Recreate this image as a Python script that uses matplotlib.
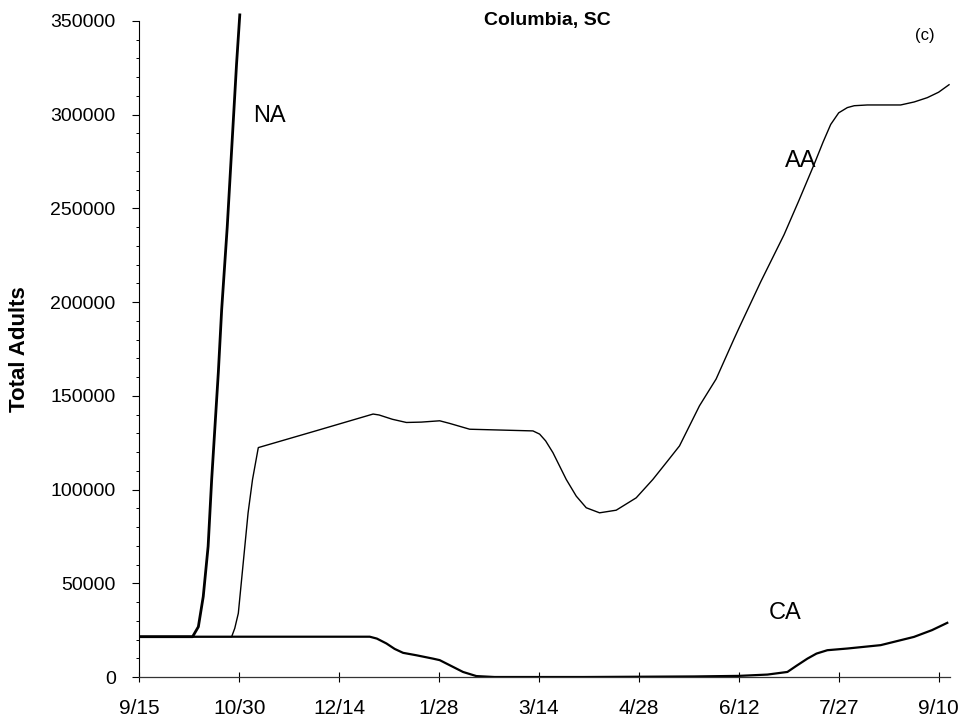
import matplotlib
matplotlib.use("Agg")
import matplotlib.pyplot as plt
from matplotlib.ticker import MultipleLocator

plt.rcParams['font.family'] = ['Liberation Sans', 'DejaVu Sans']

# x = days after 9/15
tick_days = [0, 45, 90, 135, 180, 225, 270, 315, 360]
tick_labels = ["9/15", "10/30", "12/14", "1/28", "3/14", "4/28", "6/12", "7/27", "9/10"]

na_days = [0, 24, 26.6, 28.8, 31, 32.6, 35.6, 37.1, 39.6, 43.8, 45.3]
na_vals = [21500, 21500, 26800, 42900, 69700, 105400, 162600, 196000, 240000, 327000, 354000]

aa_days = [0, 41.6, 43, 44.6, 46.8, 49, 51, 53.6, 80, 105.3, 108, 114, 120.3, 127, 135.3,
           139.8, 148.8, 177.3, 180.3, 183, 186.3, 192.3, 196.8, 201.3, 207.3, 214.8,
           223.8, 231.3, 237.9, 243.3, 252.3, 259.8, 267.9, 270.3, 279.9, 290.4, 297,
           303.9, 308, 311.4, 315, 318.9, 322, 327.9, 342.9, 349, 354.9, 360, 364.7]
aa_vals = [21500, 21500, 26000, 34000, 60800, 87600, 105400, 122400, 131500, 140300,
           139800, 137500, 135800, 136000, 136700, 135300, 132200, 131300, 129600, 126000,
           119700, 105400, 96500, 90300, 87600, 89000, 95600, 105400, 115200, 123300,
           144700, 159000, 180500, 186700, 210900, 236000, 254000,
           273400, 285500, 294800, 301000, 303800, 304800, 305200, 305200, 306800, 309100,
           312000, 316000]

ca_days = [0, 103.8, 107, 111.3, 115, 118.8, 124.8, 132.3, 135.3, 139.8, 145.8, 151.8,
           160, 200, 250, 270, 282.9, 291.9, 296, 300.9, 305, 309.9, 318.9, 333.9,
           348.9, 357, 363.9]
ca_vals = [21500, 21500, 20500, 17900, 15000, 12900, 11600, 9800, 9000, 6300, 2700, 500,
           0, 0, 300, 600, 1300, 2700, 6000, 9800, 12500, 14300, 15200, 17000, 21400,
           25000, 28900]

fig = plt.figure(figsize=(9.68, 7.24), dpi=100)
ax = fig.add_axes([0.1439, 0.0649, 0.8372, 0.9061])

ax.plot(na_days, na_vals, color='black', lw=2.0, clip_on=False, solid_capstyle='butt')
ax.plot(aa_days, aa_vals, color='black', lw=1.0)
ax.plot(ca_days, ca_vals, color='black', lw=1.6)

ax.set_xlim(0, 365)
ax.set_ylim(0, 350000)

ax.spines['top'].set_visible(False)
ax.spines['right'].set_visible(False)
ax.spines['left'].set_linewidth(0.8)
ax.spines['bottom'].set_linewidth(0.9)
ax.spines['bottom'].set_color('#333333')

ax.set_xticks(tick_days)
ax.set_xticklabels(tick_labels, fontsize=15)
ax.tick_params(axis='x', direction='inout', length=7, width=0.8, pad=12)

ax.set_yticks([0, 50000, 100000, 150000, 200000, 250000, 300000, 350000])
ax.yaxis.set_minor_locator(MultipleLocator(10000))
ax.set_yticklabels(["0", "50000", "100000", "150000", "200000", "250000", "300000", "350000"],
                   fontsize=14)
ax.tick_params(axis='y', which='major', direction='out', length=5, width=0.8, pad=12)
ax.tick_params(axis='y', which='minor', direction='out', length=2.5, width=0.7)

ax.set_ylabel("Total Adults", fontsize=16, fontweight='bold')
ax.yaxis.set_label_coords(-0.135, 0.5)

ax.text(184, 350500, "Columbia, SC", fontsize=14, fontweight='bold', ha='center', va='center')
ax.text(353.6, 342000, "(c)", fontsize=12, ha='center', va='center')
ax.text(58.8, 299500, "NA", fontsize=17, ha='center', va='center')
ax.text(297.7, 275300, "AA", fontsize=17, ha='center', va='center')
ax.text(291, 34100, "CA", fontsize=17, ha='center', va='center')

fig.savefig("out.png", dpi=100)
